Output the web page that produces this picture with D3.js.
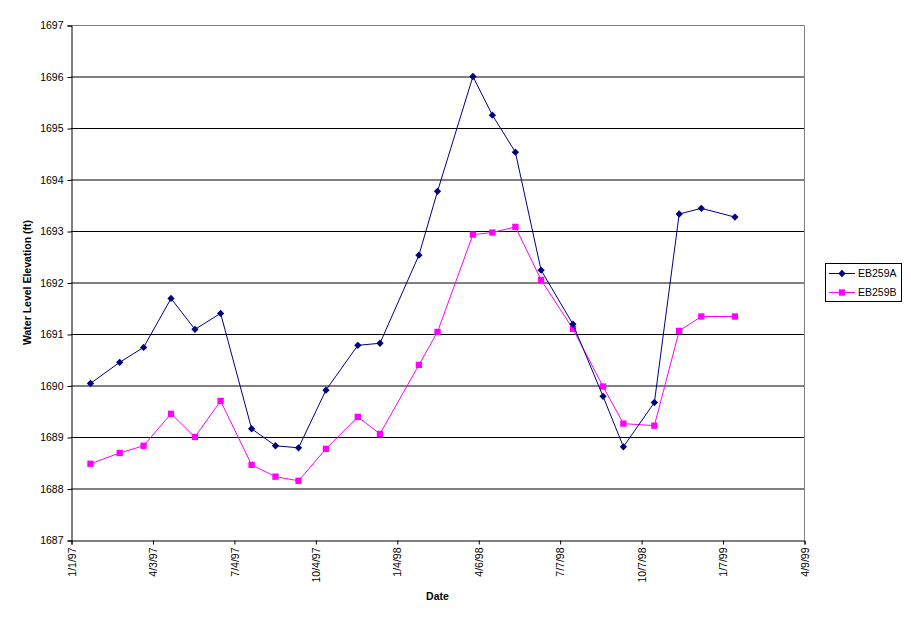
<!DOCTYPE html>
<html>
<head>
<meta charset="utf-8">
<script src="https://cdn.jsdelivr.net/npm/d3@7"></script>
<style>
  body { margin: 0; background: #fff; }
  text { font-family: Arial, "Liberation Sans", sans-serif; }
</style>
</head>
<body>
<svg id="chart" width="911" height="623"></svg>
<script>
let dates = ["1997-01-23", "1997-02-25", "1997-03-24", "1997-04-24", "1997-05-21", "1997-06-19",
    "1997-07-24", "1997-08-20", "1997-09-15", "1997-10-16", "1997-11-21", "1997-12-16",
    "1998-01-29", "1998-02-19", "1998-03-31", "1998-04-22", "1998-05-18", "1998-06-16",
    "1998-07-22", "1998-08-25", "1998-09-17", "1998-10-22", "1998-11-19", "1998-12-14", "1999-01-21"]
let eb259a = [1690.04, 1690.45, 1690.74, 1691.69, 1691.09, 1691.40, 1689.16, 1688.83, 1688.79, 1689.91,
    1690.78, 1690.82, 1692.53, 1693.77, 1696.00, 1695.25, 1694.53, 1692.24, 1691.19, 1689.79,
    1688.81, 1689.67, 1693.33, 1693.44, 1693.27]
let eb259b = [1688.48, 1688.69, 1688.83, 1689.45, 1689.00, 1689.70, 1688.46, 1688.23, 1688.15, 1688.77,
    1689.39, 1689.06, 1690.40, 1691.04, 1692.93, 1692.97, 1693.08, 1692.05, 1691.10, 1689.98,
    1689.26, 1689.22, 1691.06, 1691.34, 1691.34]
let xTicks = ["1997-01-01", "1997-04-03", "1997-07-04", "1997-10-04", "1998-01-04", "1998-04-06",
    "1998-07-07", "1998-10-07", "1999-01-07", "1999-04-09"]
let yTicks = [1687, 1688, 1689, 1690, 1691, 1692, 1693, 1694, 1695, 1696, 1697]

let parseDate = d3.timeParse("%Y-%m-%d")
let fmt = (d) => (d.getMonth() + 1) + "/" + d.getDate() + "/" + String(d.getFullYear()).slice(2)

let plotL = 71, plotR = 804, plotT = 25, plotB = 540

let svg = d3.select("#chart")

let x = d3.scaleTime()
    .domain([parseDate(xTicks[0]), parseDate(xTicks[xTicks.length - 1])])
    .range([plotL, plotR])
let y = d3.scaleLinear().domain([1687, 1697]).range([plotB, plotT])

// gridlines
svg.append("g")
    .selectAll("line")
    .data(yTicks.slice(1, -1))
    .enter()
    .append("line")
    .attr("x1", plotL).attr("x2", plotR)
    .attr("y1", (d) => y(d) + 0.5).attr("y2", (d) => y(d) + 0.5)
    .attr("stroke", "#000").attr("stroke-width", 1)

// grey frame top/right
svg.append("path")
    .attr("d", `M${plotL},${plotT + 0.5}H${plotR + 0.5}V${plotB}`)
    .attr("fill", "none").attr("stroke", "#808080")

// y axis
let yAxis = d3.axisLeft(y).tickValues(yTicks).tickSize(4).tickFormat(d3.format("d"))
let gy = svg.append("g").attr("transform", `translate(${plotL + 0.5},0.5)`).call(yAxis)
gy.select(".domain").attr("stroke", "#000")
gy.selectAll("text").attr("font-size", 10.5).attr("x", -8).attr("fill", "#000")

// x axis
let xAxis = d3.axisBottom(x).tickValues(xTicks.map(parseDate)).tickSize(4).tickFormat(fmt)
let gx = svg.append("g").attr("transform", `translate(0.5,${plotB + 0.5})`).call(xAxis)
gx.select(".domain").attr("stroke", "#000")
gx.selectAll("text")
    .attr("font-size", 10.5)
    .attr("fill", "#000")
    .attr("transform", "rotate(-90)")
    .attr("text-anchor", "end")
    .attr("x", -7)
    .attr("y", 0)
    .attr("dy", "0.35em")

// axis titles
svg.append("text")
    .attr("transform", `translate(31,${(plotT + plotB) / 2}) rotate(-90)`)
    .attr("text-anchor", "middle")
    .attr("font-size", 10.5).attr("font-weight", "bold")
    .text("Water Level Elevation (ft)")
svg.append("text")
    .attr("x", (plotL + plotR) / 2).attr("y", 600)
    .attr("text-anchor", "middle")
    .attr("font-size", 10.5).attr("font-weight", "bold")
    .text("Date")

let series = [
    { name: "EB259A", values: eb259a, color: "#000080", shape: d3.symbolDiamond2, size: 34 },
    { name: "EB259B", values: eb259b, color: "#FF00FF", shape: d3.symbolSquare, size: 40 }
]

let line = d3.line()
    .x((d) => x(d.date))
    .y((d) => y(d.value))

series.slice().reverse().forEach((s) => {
    let pts = dates.map((d, i) => ({ date: parseDate(d), value: s.values[i] }))
    let g = svg.append("g")
    g.append("path")
        .attr("d", line(pts))
        .attr("fill", "none")
        .attr("stroke", s.color)
        .attr("stroke-width", 1)
    g.selectAll("path.m")
        .data(pts)
        .enter()
        .append("path")
        .attr("class", "m")
        .attr("transform", (d) => `translate(${x(d.date)},${y(d.value)})`)
        .attr("d", d3.symbol().type(s.shape).size(s.size))
        .attr("fill", s.color)
})

// legend
let lg = svg.append("g")
lg.append("rect")
    .attr("x", 825.5).attr("y", 263.5).attr("width", 76).attr("height", 38)
    .attr("fill", "#fff").attr("stroke", "#000")
series.forEach((s, i) => {
    let ly = 273.5 + i * 19
    lg.append("line")
        .attr("x1", 829).attr("x2", 855).attr("y1", ly).attr("y2", ly)
        .attr("stroke", s.color)
    lg.append("path")
        .attr("transform", `translate(842,${ly})`)
        .attr("d", d3.symbol().type(s.shape).size(s.size))
        .attr("fill", s.color)
    lg.append("text")
        .attr("x", 858).attr("y", ly).attr("dy", "0.35em")
        .attr("font-size", 10.5)
        .text(s.name)
})
</script>
</body>
</html>
